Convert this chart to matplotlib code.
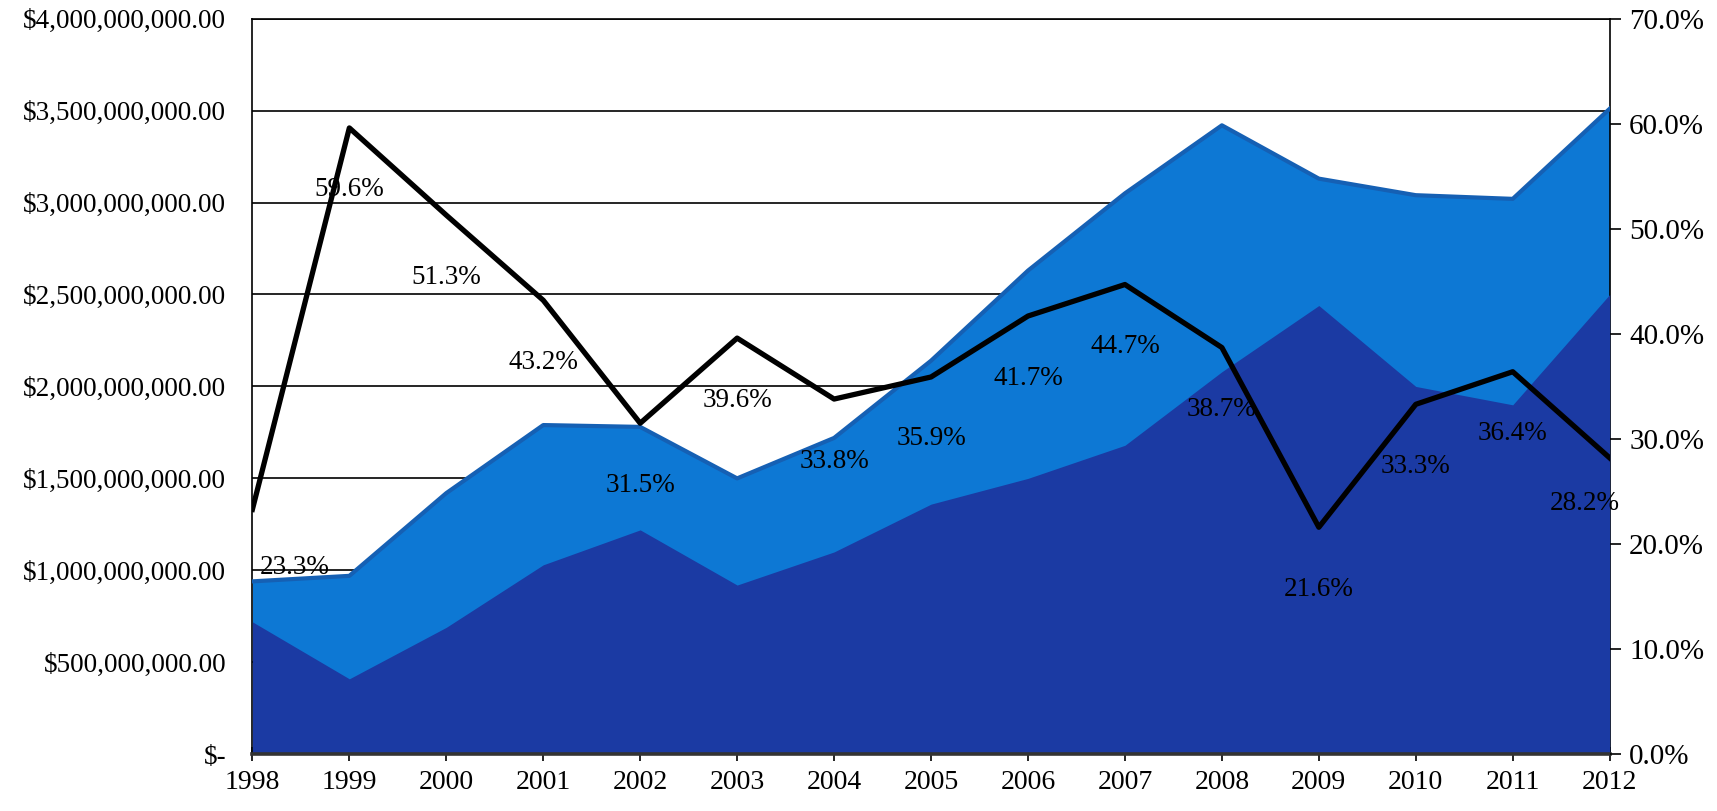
import numpy as np
import matplotlib.pyplot as plt
from matplotlib.ticker import FuncFormatter

# values
years = [1998, 1999, 2000, 2001, 2002, 2003, 2004, 2005, 2006, 2007, 2008, 2009, 2010, 2011, 2012]
dark_values = [0.72e9, 0.41e9, 0.69e9, 1.03e9, 1.22e9, 0.92e9, 1.10e9, 1.36e9, 1.50e9, 1.68e9, 2.08e9, 2.44e9, 2.00e9, 1.90e9, 2.50e9]
total_values = [0.94e9, 0.97e9, 1.42e9, 1.79e9, 1.78e9, 1.50e9, 1.72e9, 2.14e9, 2.63e9, 3.05e9, 3.42e9, 3.13e9, 3.04e9, 3.02e9, 3.51e9]
pct_values = [23.3, 59.6, 51.3, 43.2, 31.5, 39.6, 33.8, 35.9, 41.7, 44.7, 38.7, 21.6, 33.3, 36.4, 28.2]

plt.rcParams['font.family'] = ['Liberation Serif', 'DejaVu Serif']

fig = plt.figure(figsize=(17.17, 8.11), dpi=100)
ax = fig.add_axes([0.147, 0.070, 0.7905, 0.907])

light = '#0d78d4'
edge = '#1560b4'
dark = '#1b3aa3'

ax.fill_between(years, 0, total_values, color=light, zorder=2, lw=0)
ax.plot(years, total_values, color=edge, lw=3, zorder=3)
ax.fill_between(years, 0, dark_values, color=dark, zorder=4, lw=0)

ax.set_xlim(1998, 2012)
ax.set_ylim(0, 4e9)
ax.set_yticks(np.arange(0, 4.01e9, 5e8))
ax.yaxis.set_major_formatter(FuncFormatter(lambda v, p: '$-' if v == 0 else '${:,.2f}'.format(v)))
ax.set_xticks(years)
ax.grid(axis='y', color='black', lw=1.2, zorder=1)
ax.set_axisbelow(True)
ax.tick_params(axis='y', length=0, pad=19, labelsize=19.5)
ax.tick_params(axis='x', direction='inout', length=10, width=1.2, pad=6, labelsize=20)
for s in ['left', 'right', 'top']:
    ax.spines[s].set_linewidth(1.2)
ax.spines['bottom'].set_linewidth(2.6)
ax.spines['bottom'].set_color('#333333')
ax.spines['bottom'].set_zorder(6)

ax2 = ax.twinx()
ax2.plot(years, pct_values, color='black', lw=3.8, zorder=5)
ax2.set_ylim(0, 70)
ax2.set_yticks(np.arange(0, 71, 10))
ax2.yaxis.set_major_formatter(FuncFormatter(lambda v, p: '{:.1f}%'.format(v)))
ax2.tick_params(axis='y', direction='out', length=8, width=1.2, pad=6, labelsize=21)
for s in ['left', 'right', 'top', 'bottom']:
    ax2.spines[s].set_visible(False)

for i, (yr, pv) in enumerate(zip(years, pct_values)):
    dx, dy = 0, -62
    if i == 0:
        dx, dy = 42, -58
    elif i == len(years) - 1:
        dx, dy = -25, -46
    ax2.annotate('{:.1f}%'.format(pv), (yr, pv), xytext=(dx, dy), textcoords='offset pixels',
                 ha='center', va='center', fontsize=19.5, color='black')

fig.savefig('out.png', dpi=100)
